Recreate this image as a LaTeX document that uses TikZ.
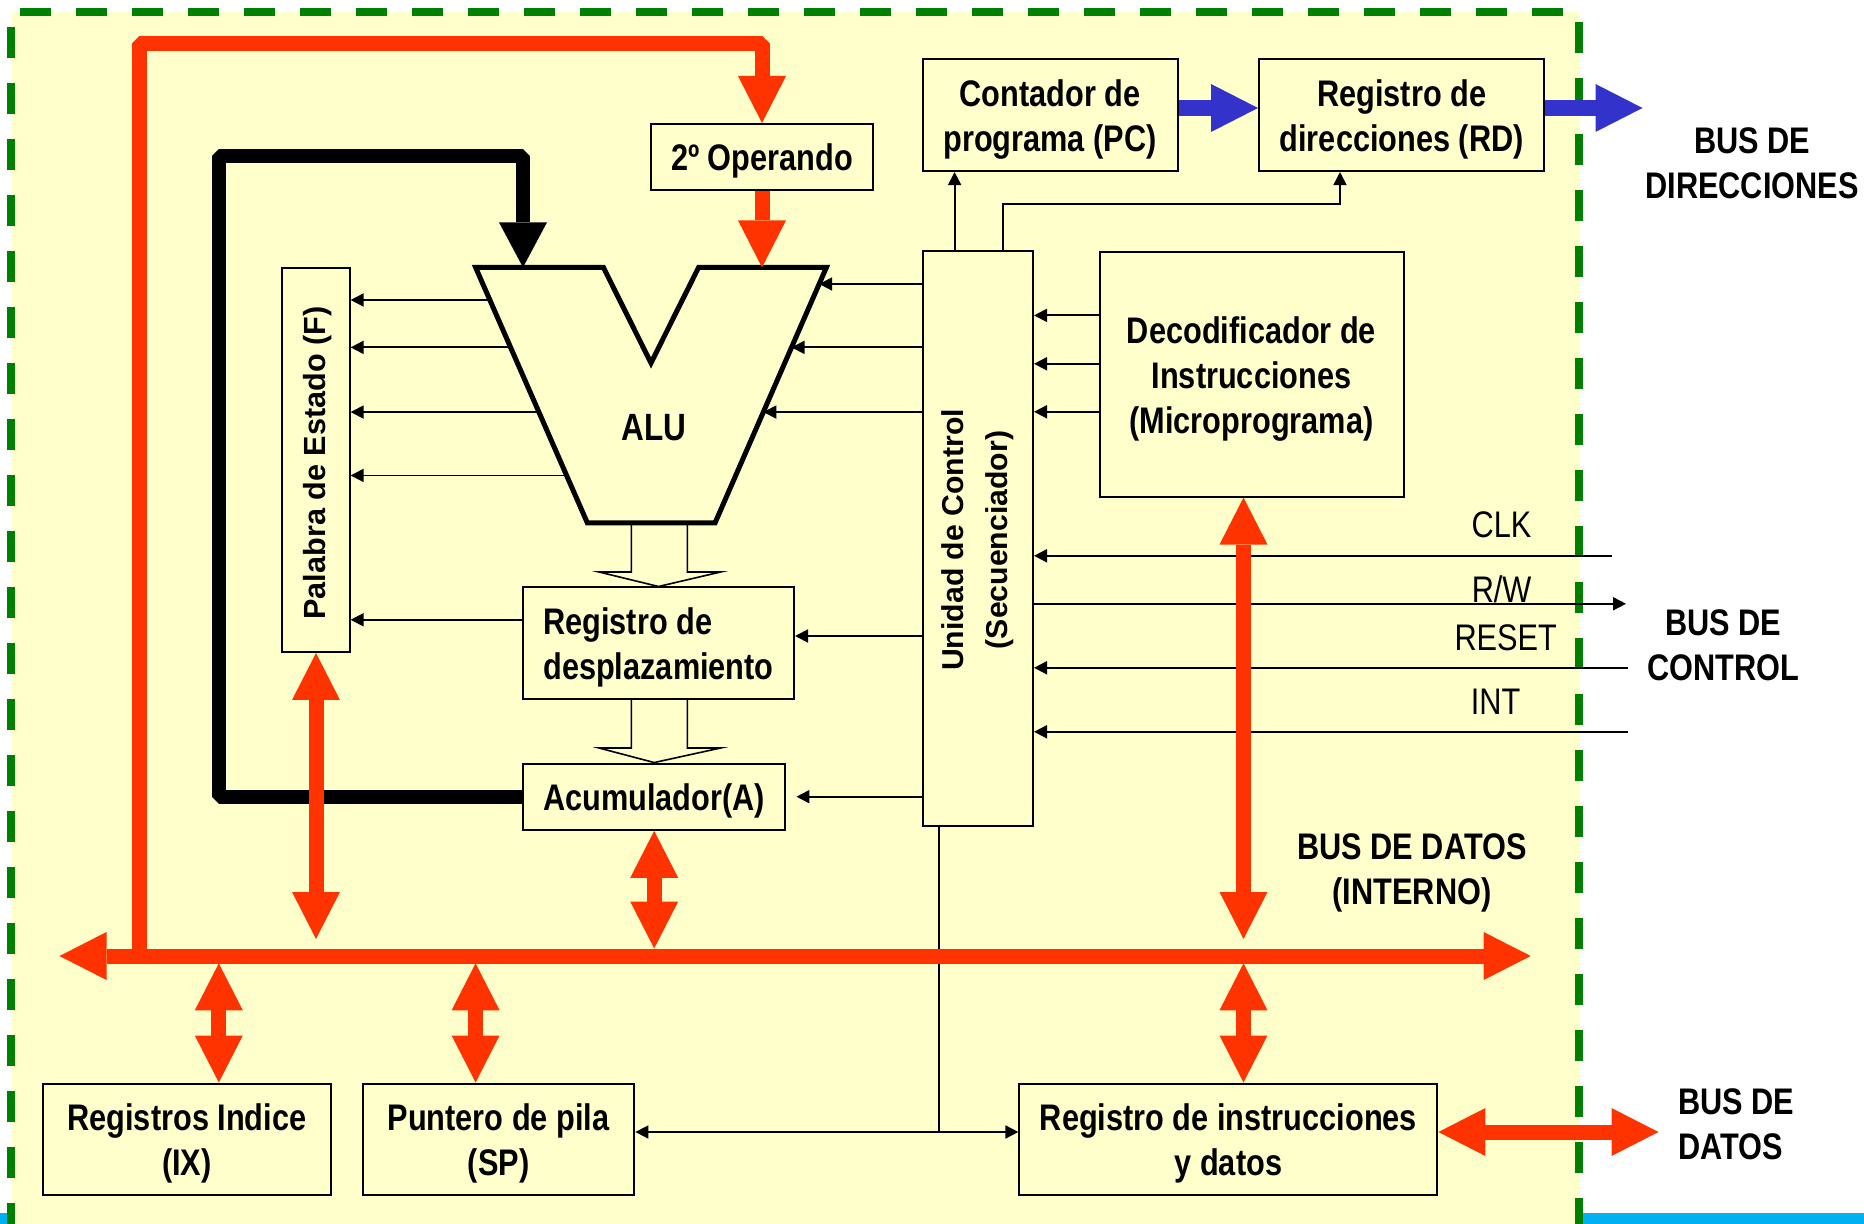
\documentclass[tikz,border=0pt]{standalone}
\usepackage{fontspec}
\newfontfamily\nar[FakeStretch=0.83]{Liberation Sans}
\newfontfamily\wid{Liberation Sans}
\usetikzlibrary{arrows.meta,calc}
\definecolor{bgy}{HTML}{FFFFCC}
\definecolor{busred}{HTML}{FF3300}
\definecolor{bblue}{HTML}{3333CC}
\definecolor{dgreen}{HTML}{008000}
\definecolor{strip}{HTML}{00B0F0}
\tikzset{
 box/.style={draw=black,line width=1pt,fill=bgy,inner sep=0pt},
 btxt/.style={font={\nar\bfseries\fontsize{18.5}{22.5}\selectfont},align=center},
 boxtxt/.style={btxt,yshift=-2.2pt},
 ltxt/.style={font={\nar\fontsize{18.5}{22.5}\selectfont}},
 tline/.style={draw=black,line width=0.9pt},
 tarr/.style={tline,-{Triangle[length=6.5pt,width=6.5pt]}},
 tboth/.style={tline,{Triangle[length=6.5pt,width=6.5pt]}-{Triangle[length=6.5pt,width=6.5pt]}},
 rline/.style={draw=busred,line width=7.5pt,line join=bevel},
 rend/.style={rline,-{Triangle[length=23.5pt,width=24pt,line width=0pt]}},
 rboth/.style={rline,{Triangle[length=23.5pt,width=24pt,line width=0pt]}-{Triangle[length=23.5pt,width=24pt,line width=0pt]}},
 bline/.style={draw=black,line width=7pt,line join=bevel,-{Triangle[length=22.5pt,width=24pt,line width=0pt]}},
 blarr/.style={draw=bblue,line width=8.25pt,-{Triangle[length=23.5pt,width=24pt,line width=0pt]}},
 hollow/.style={draw=black,line width=0.8pt,line join=miter},
 gdash/.style={draw=dgreen,line width=3.9pt,dash pattern=on 15.5pt off 12.5pt}
}
\begin{document}
\begin{tikzpicture}[x=0.5pt,y=-0.5pt]
\useasboundingbox (0,0) rectangle (1864,1224);
% background
\fill[strip] (0,1213) rectangle (1864,1224);
\fill[bgy] (11.5,12) rectangle (1579.5,1224);
\draw[gdash,dash phase=23.7pt] (11,12) -- (1579,12);
\draw[gdash,dash phase=20.5pt] (11,12) -- (11,1230);
\draw[gdash,dash phase=23.2pt] (1579.3,12) -- (1579.3,1230);

% boxes
\node[box,minimum width=111pt,minimum height=33pt] (op2) at (762,157) {};
\node[boxtxt] (op2t) at (op2) {2º Operando};
\node[box,minimum width=127.5pt,minimum height=55.85pt] (pc) at (1050,115.2) {};
\node[boxtxt] (pct) at (pc) {Contador de\\programa (PC)};
\node[box,minimum width=142.7pt,minimum height=55.85pt] (rdir) at (1401.7,115.2) {};
\node[boxtxt] (rdirt) at (rdir) {Registro de\\direcciones (RD)};
\node[box,minimum width=33.6pt,minimum height=192pt] (flag) at (316,460) {};
\node[rotate=90,font={\wid\bfseries\fontsize{15.3}{20}\selectfont}] (flagt) at (318,463) {Palabra de Estado (F)};
\node[box,minimum width=55pt,minimum height=287.5pt] (cu) at (978,538.5) {};
\node[rotate=90,align=center,font={\wid\bfseries\fontsize{15.1}{22}\selectfont}] (cut) at (978,540) {Unidad de Control\\(Secuenciador)};
\node[box,minimum width=152pt,minimum height=122.35pt] (dec) at (1251.5,374.2) {};
\node[boxtxt] (dect) at (dec) {Decodificador de\\Instrucciones\\(Microprograma)};
\node[box,minimum width=135.5pt,minimum height=55.6pt] (rdp) at (658.5,643.1) {};
\node[boxtxt,align=left] (rdpt) at (rdp) {Registro de\\desplazamiento};
\node[box,minimum width=131.2pt,minimum height=33.15pt] (acc) at (654.2,796.7) {};
\node[boxtxt] (acct) at (acc) {Acumulador(A)};
\node[box,minimum width=144.1pt,minimum height=55.6pt] (ix) at (186.9,1139.1) {};
\node[boxtxt] (ixt) at (ix) {Registros Indice\\(IX)};
\node[box,minimum width=135.85pt,minimum height=55.6pt] (sp) at (498.55,1139.1) {};
\node[boxtxt] (spt) at (sp) {Puntero de pila\\(SP)};
\node[box,minimum width=209pt,minimum height=55.6pt] (ri) at (1228.4,1139.1) {};
\node[boxtxt] (rit) at (ri) {Registro de instrucciones\\y datos};

% ALU
\coordinate (aTL) at (475.6,267.4);
\coordinate (aTLi) at (603.4,267.4);
\coordinate (aV) at (651,363);
\coordinate (aTRi) at (698.6,267.4);
\coordinate (aTR) at (826.4,267.4);
\coordinate (aBR) at (715,523);
\coordinate (aBL) at (587.4,523);
\draw[line width=2.5pt,line join=miter,fill=bgy] (aTL) -- (aTLi) -- (aV) -- (aTRi) -- (aTR) -- (aBR) -- (aBL) -- cycle;
\node[font={\nar\bfseries\fontsize{19}{22}\selectfont}] (alut) at (654,428) {ALU};

% hollow arrows
\draw[hollow] (631.4,523) -- (631.4,572) -- (599,572) -- (rdp.north) -- (720.6,572) -- (687.3,572) -- (687.3,523);
\draw[hollow] (631.4,699) -- (631.4,748) -- (599,748) -- (acc.north) -- (720.6,748) -- (687.3,748) -- (687.3,699);

% ALU -> flags
\foreach \t/\n in {0.1275/1,0.313/2,0.566/3,0.814/4}{
  \coordinate (la\n) at ($(aTL)!\t!(aBL)$);
  \draw[tarr] (la\n) -- (flag.east |- la\n);
}
\coordinate (rdpf) at (rdp.west |- 0,619.8);
\draw[tarr] (rdpf) -- (flag.east |- rdpf);

% CU -> ALU
\foreach \t/\n in {0.065/1,0.313/2,0.566/3}{
  \coordinate (ra\n) at ($(aTR)!\t!(aBR)$);
  \draw[tarr] (cu.west |- ra\n) -- (ra\n);
}
\draw[tarr] (cu.west |- 0,636) -- (rdp.east |- 0,636);
\draw[tarr] (cu.west |- acc.east) -- ([xshift=5pt]acc.east);

% decoder -> CU
\foreach \y in {315.4,363.8,411.8}{
  \draw[tarr] (dec.west |- 0,\y) -- (cu.east |- 0,\y);
}
% CU -> PC, RD
\draw[tarr] (cu.north -| 954.6,0) -- (pc.south -| 954.6,0);
\draw[tarr] (cu.north -| 1003.3,0) -- (1003.3,203.7) -| (rdir.south -| 1340,0);

% control bus lines
\draw[tarr] (1611.6,555.8) -- (cu.east |- 0,555.8);
\draw[tarr] (cu.east |- 0,603.8) -- (1626,603.8);
\draw[tarr] (1627.6,667.8) -- (cu.east |- 0,667.8);
\draw[tarr] (1627.6,731.8) -- (cu.east |- 0,731.8);
\node[ltxt] (clk) at (1501.6,525) {CLK};
\node[ltxt] (rw) at (1501.6,589.4) {R/W};
\node[ltxt] (rst) at (1505.7,637.4) {RESET};
\node[ltxt] (int) at (1495.6,701.8) {INT};

% CU -> SP / RI
\coordinate (jn) at (939,1132);
\draw[tline] (cu.south -| jn) -- (jn);
\draw[tboth] (sp.east |- jn) -- (ri.west |- jn);

% black feedback loop
\draw[bline] (acc.west) -- (219,796.7) -- (219,156) -| (523,267.4);

% red data bus
\coordinate (busL) at (59.5,956);
\coordinate (busR) at (1530.7,956);
\coordinate (loopA) at (139,956);
\draw[rend] (loopA) -- (139,44) -| (op2.north);
\draw[rboth] (busL) -- (busR);
\draw[rend] (op2.south) -- (op2.south |- aTR);
\draw[rboth] (flag.south) -- (flag.south |- 0,939);
\draw[rboth] (acc.south) -- (acc.south |- 0,948.5);
\draw[rboth] (dec.south -| 1243.5,0) -- (1243.5,939);
\draw[rboth] (218.8,963.3) -- (ix.north -| 218.8,0);
\draw[rboth] (475.6,963.3) -- (sp.north -| 475.6,0);
\draw[rboth] (1243.5,963.3) -- (ri.north -| 1243.5,0);
\draw[rboth] (ri.east |- 0,1132) -- (1658.5,1132);

% blue address arrows
\draw[blarr] (pc.east |- 0,108) -- (rdir.west |- 0,108);
\draw[blarr] (rdir.east |- 0,108) -- (1642.5,108);

% bus labels
\node[btxt] (bdir) at (1752,163.5) {BUS DE\\DIRECCIONES};
\node[btxt] (bctl) at (1723,645) {BUS DE\\CONTROL};
\node[btxt,yshift=-2pt] (bdi) at (1412,868.5) {BUS DE DATOS\\(INTERNO)};
\node[btxt,align=left,anchor=west] (bda) at (1671,1124.4) {BUS DE\\DATOS};
\end{tikzpicture}
\end{document}
